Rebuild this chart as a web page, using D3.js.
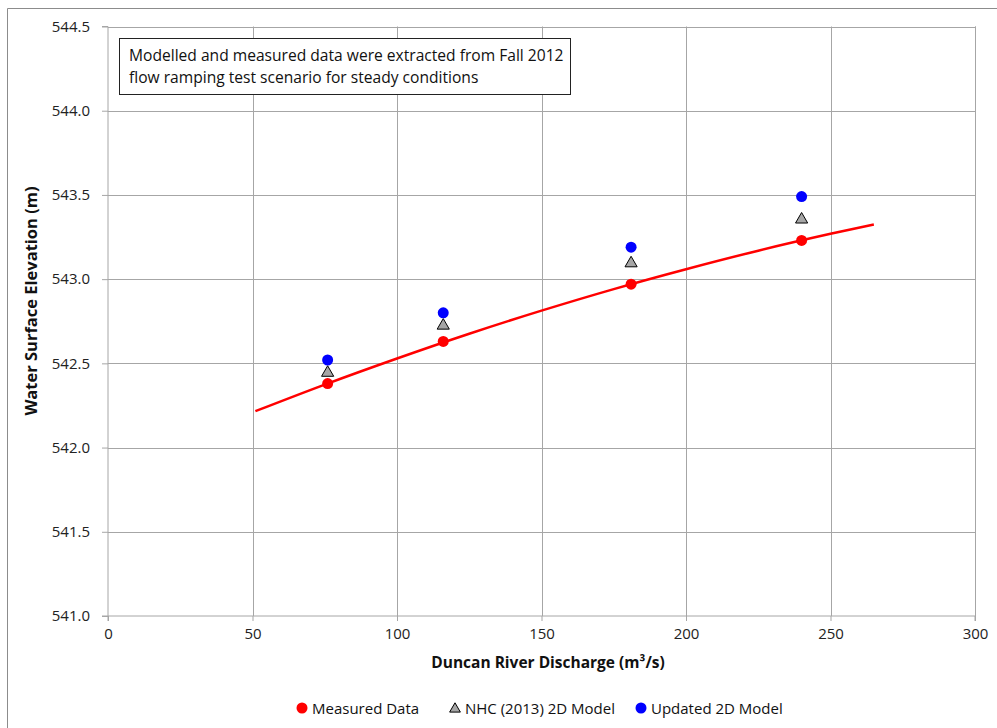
<!DOCTYPE html>
<html><head><meta charset="utf-8">
<script src="https://cdn.jsdelivr.net/npm/d3@7"></script>
<style>body{margin:0;background:#fff;} svg{display:block;font-family:"Open Sans",sans-serif;}</style>
</head><body>
<svg id="c" width="997" height="728"></svg>
<script>
const discharge = [76, 116, 181, 240];
const measured = [542.38, 542.63, 542.97, 543.23];
const nhc2013 = [542.45, 542.73, 543.10, 543.36];
const updated = [542.52, 542.80, 543.19, 543.49];
const trendX = [51, 75, 100, 125, 150, 175, 200, 225, 250, 265];
const trendY = [542.216, 542.374, 542.529, 542.676, 542.813, 542.941, 543.059, 543.169, 543.269, 543.325];
const xTicks = [0, 50, 100, 150, 200, 250, 300];
const yTicks = [541.0, 541.5, 542.0, 542.5, 543.0, 543.5, 544.0, 544.5];
const legendLabels = ["Measured Data", "NHC (2013) 2D Model", "Updated 2D Model"];
const noteLines = ["Modelled and measured data were extracted from Fall 2012", "flow ramping test scenario for steady conditions"];

const svg = d3.select("#c");
const L = 108, R = 975, T = 26.5, B = 616;
const x = d3.scaleLinear().domain([0, 300]).range([L, R]);
const y = d3.scaleLinear().domain([541, 544.5]).range([B, T]);
const grid = "#a6a6a6";

// outer frame
svg.append("path").attr("d", "M7.5,728 V8.5 H997").attr("fill", "none").attr("stroke", "#8c8c8c").attr("stroke-width", 1);

// gridlines
svg.append("g").selectAll("line").data(xTicks.slice(1)).join("line")
  .attr("x1", d => Math.round(x(d)) + 0.5).attr("x2", d => Math.round(x(d)) + 0.5)
  .attr("y1", T).attr("y2", B).attr("stroke", grid);
svg.append("g").selectAll("line").data(yTicks.slice(1)).join("line")
  .attr("x1", L).attr("x2", R)
  .attr("y1", d => Math.round(y(d)) + 0.5).attr("y2", d => Math.round(y(d)) + 0.5).attr("stroke", grid);

// axes
const xAxis = d3.axisBottom(x).tickValues(xTicks).tickSize(5).tickPadding(7).tickFormat(d3.format("d"));
const yAxis = d3.axisLeft(y).tickValues(yTicks).tickSize(6).tickPadding(12).tickFormat(d3.format(".1f"));
const gx = svg.append("g").attr("transform", `translate(0,${B})`).call(xAxis);
const gy = svg.append("g").attr("transform", `translate(${L},0)`).call(yAxis);
[gx, gy].forEach(g => {
  g.selectAll("path,line").attr("stroke", grid);
  g.selectAll("text").attr("font-size", 15).attr("fill", "#222").attr("font-family", "Open Sans, sans-serif");
});
gy.select(".domain").attr("d", `M-6,${T}H0V${B}H-6`);
gx.select(".domain").attr("d", `M${L},5V0H${R}V5`);
// right border of plot
svg.append("line").attr("x1", R + 0.5).attr("x2", R + 0.5).attr("y1", T).attr("y2", B).attr("stroke", grid);

// trend line
const line = d3.line().x((d, i) => x(trendX[i])).y(d => y(d)).curve(d3.curveMonotoneX);
svg.append("path").attr("d", line(trendY)).attr("fill", "none").attr("stroke", "#ff0000").attr("stroke-width", 2.5);

// points
const tri = d3.symbol().type(d3.symbolTriangle).size(64);
svg.append("g").selectAll("path").data(nhc2013).join("path")
  .attr("d", tri).attr("transform", (d, i) => `translate(${x(discharge[i])},${y(d) + 1})`)
  .attr("fill", "#a6a6a6").attr("stroke", "#000").attr("stroke-width", 1);
svg.append("g").selectAll("circle").data(measured).join("circle")
  .attr("cx", (d, i) => x(discharge[i])).attr("cy", d => y(d)).attr("r", 5.5).attr("fill", "#ff0000");
svg.append("g").selectAll("circle").data(updated).join("circle")
  .attr("cx", (d, i) => x(discharge[i])).attr("cy", d => y(d)).attr("r", 5.5).attr("fill", "#0000ff");

// note box
svg.append("rect").attr("x", 119.5).attr("y", 38.5).attr("width", 451).attr("height", 56)
  .attr("fill", "#fff").attr("stroke", "#222").attr("stroke-width", 1);
svg.append("g").selectAll("text").data(noteLines).join("text")
  .attr("x", 129).attr("y", (d, i) => 61 + i * 22).attr("font-size", 15.6).attr("fill", "#111").text(d => d);

// axis titles
svg.append("text").attr("x", 548).attr("y", 668).attr("text-anchor", "middle")
  .attr("font-size", 15.5).attr("font-weight", "bold").attr("fill", "#111")
  .text("Duncan River Discharge (m³/s)");
svg.append("text").attr("transform", "translate(37,301) rotate(-90)").attr("text-anchor", "middle")
  .attr("font-size", 16.5).attr("font-weight", "bold").attr("fill", "#111")
  .text("Water Surface Elevation (m)");

// legend
const lg = svg.append("g");
const lx = [302, 455, 641];
lg.append("circle").attr("cx", lx[0]).attr("cy", 708).attr("r", 5.5).attr("fill", "#ff0000");
lg.append("path").attr("d", d3.symbol().type(d3.symbolTriangle).size(50)).attr("transform", `translate(${lx[1]},709)`)
  .attr("fill", "#a6a6a6").attr("stroke", "#000");
lg.append("circle").attr("cx", lx[2]).attr("cy", 708).attr("r", 5.5).attr("fill", "#0000ff");
lg.selectAll("text").data(legendLabels).join("text")
  .attr("x", (d, i) => lx[i] + 10).attr("y", 713.5).attr("font-size", 15).attr("fill", "#111").text(d => d);
</script>
</body></html>
